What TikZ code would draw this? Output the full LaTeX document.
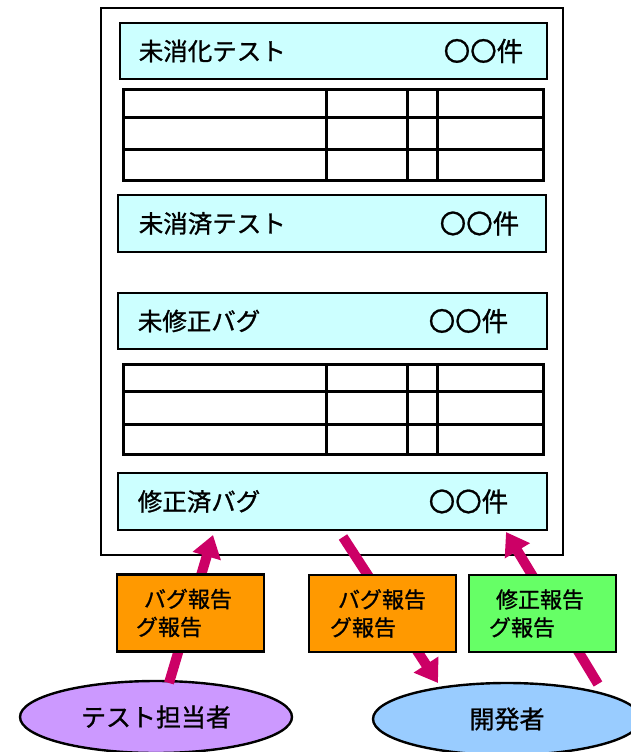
\documentclass[tikz,border=0pt]{standalone}
\usepackage{fontspec}
\newfontfamily\jp[FakeBold=1]{Noto Sans CJK JP}
\usetikzlibrary{arrows.meta,shapes.geometric}
\definecolor{hdrfill}{HTML}{CCFFFF}
\definecolor{orangefill}{HTML}{FF9900}
\definecolor{greenfill}{HTML}{66FF66}
\definecolor{purplefill}{HTML}{CC99FF}
\definecolor{bluefill}{HTML}{99CCFF}
\definecolor{arrowcol}{HTML}{CC0066}
\tikzset{
  hdr/.style={draw=black, line width=2.8pt, fill=hdrfill, rectangle, inner sep=0pt, minimum height=56pt},
  hdrtxt/.style={font=\jp\fontsize{24.5pt}{28pt}\selectfont, inner sep=0pt},
  cnttxt/.style={font=\jp\fontsize{26.5pt}{28pt}\selectfont, inner sep=0pt},
  tbl/.style={line width=3pt, black},
  outerbox/.style={draw=black, line width=2.4pt, fill=white, rectangle, inner sep=0pt},
  repbox/.style={draw=black, line width=2.6pt, rectangle, inner ysep=0pt, minimum width=147pt, minimum height=77pt,
     align=left, font=\jp\fontsize{22pt}{28pt}\selectfont},
  actor/.style={draw=black, line width=2.4pt, ellipse, inner sep=0pt, minimum width=272pt, minimum height=72pt,
     font=\jp\fontsize{25pt}{28pt}\selectfont},
  flow/.style={draw=arrowcol, line width=10pt, -{Triangle[length=22pt, width=28pt]}},
}
\begin{document}
\begin{tikzpicture}[x=1pt, y=-1pt]
\useasboundingbox (0,0) rectangle (631,752);
% outer sheet
\node[outerbox, minimum width=462pt, minimum height=547pt] (sheet) at (332,281.5) {};
% headers
\node[hdr, minimum width=427pt] (h1) at (333.5,51) {};
\node[hdrtxt, anchor=west] (h1l) at ([xshift=20pt]h1.west) {未消化テスト};
\node[cnttxt, anchor=east] (h1r) at ([xshift=-25pt]h1.east) {〇〇件};
\node[hdr, minimum width=428pt, minimum height=57pt] (h2) at (332,223.5) {};
\node[hdrtxt, anchor=west] (h2l) at ([xshift=22pt]h2.west) {未消済テスト};
\node[cnttxt, anchor=east] (h2r) at ([xshift=-28pt]h2.east) {〇〇件};
\node[hdr, minimum width=429pt] (h3) at (332.5,321) {};
\node[hdrtxt, anchor=west] (h3l) at ([xshift=21pt]h3.west) {未修正バグ};
\node[cnttxt, anchor=east] (h3r) at ([xshift=-40pt]h3.east) {〇〇件};
\node[hdr, minimum width=429pt, minimum height=57pt] (h4) at (332.5,501.5) {};
\node[hdrtxt, anchor=west] (h4l) at ([xshift=21pt]h4.west) {修正済バグ};
\node[cnttxt, anchor=east] (h4r) at ([xshift=-40pt]h4.east) {〇〇件};
% table 1
\draw[tbl] (123,89) rectangle (543,180);
\draw[tbl] (123,117) -- (543,117) (123,149) -- (543,149);
\draw[tbl] (326,89) -- (326,180) (407,89) -- (407,180) (437,89) -- (437,180);
% table 2
\draw[tbl] (123,364) rectangle (543,454);
\draw[tbl] (123,391) -- (543,391) (123,424) -- (543,424);
\draw[tbl] (326,364) -- (326,454) (407,364) -- (407,454) (437,364) -- (437,454);
% actors
\node[actor, fill=purplefill] (tester) at (156,717) {テスト担当者};
\node[actor, fill=bluefill, minimum width=268pt] (dev) at (507,719) {開発者};
% arrow end points
\coordinate (a1s) at (169,683);
\coordinate (a1e) at (213,535);
\coordinate (a2s) at (343,537);
\coordinate (a2e) at (438,683);
\coordinate (a3s) at (598,684);
\coordinate (a3e) at (506,532);
\draw[flow] (a1s) -- (a1e);
\draw[flow] (a2s) -- (a2e);
\draw[flow] (a3s) -- (a3e);
% report boxes
\node[repbox, fill=orangefill, text width=109pt, inner xsep=19pt] (r1) at (190.5,613) {\hspace*{8pt}バグ報告\\グ報告};
\node[repbox, fill=orangefill, text width=105pt, inner xsep=21pt] (r2) at (382.5,613.5) {\hspace*{8pt}バグ報告\\グ報告};
\node[repbox, fill=greenfill, text width=107pt, inner xsep=20pt] (r3) at (542.5,613.5) {\hspace*{7pt}修正報告\\グ報告};
\end{tikzpicture}
\end{document}
